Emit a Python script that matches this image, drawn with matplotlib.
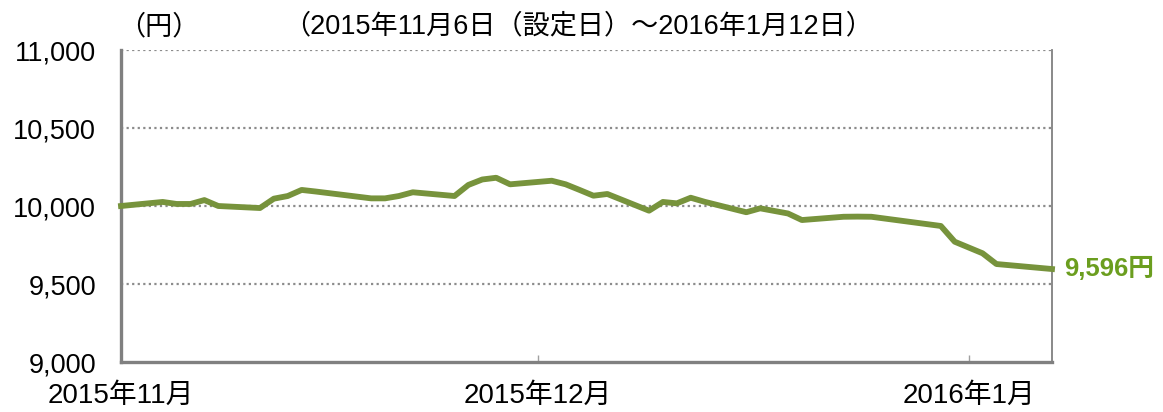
import datetime as dt
import matplotlib
matplotlib.use("Agg")
import matplotlib.pyplot as plt
from matplotlib.ticker import FuncFormatter

plt.rcParams['font.family'] = ['Liberation Sans', 'Noto Sans CJK JP', 'DejaVu Sans']

# trading days (Nov 6 2015 - Jan 12 2016) and NAV
dates = ["2015-11-06", "2015-11-09", "2015-11-10", "2015-11-11", "2015-11-12",
         "2015-11-13", "2015-11-16", "2015-11-17", "2015-11-18", "2015-11-19",
         "2015-11-20", "2015-11-24", "2015-11-25", "2015-11-26", "2015-11-27",
         "2015-11-30", "2015-12-01", "2015-12-02", "2015-12-03", "2015-12-04",
         "2015-12-07", "2015-12-08", "2015-12-09", "2015-12-10", "2015-12-11",
         "2015-12-14", "2015-12-15", "2015-12-16", "2015-12-17", "2015-12-18",
         "2015-12-21", "2015-12-22", "2015-12-24", "2015-12-25", "2015-12-28",
         "2015-12-29", "2015-12-30", "2016-01-04", "2016-01-05", "2016-01-06",
         "2016-01-07", "2016-01-08", "2016-01-12"]
nav = [10000, 10026, 10013, 10013, 10038,
       10000, 9987, 10047, 10064, 10103,
       10093, 10049, 10049, 10064, 10088,
       10064, 10135, 10170, 10181, 10139,
       10162, 10139, 10103, 10066, 10077,
       9970, 10026, 10017, 10053, 10027,
       9960, 9985, 9952, 9910, 9931,
       9932, 9931, 9872, 9771, 9734,
       9697, 9628, 9596]

tick_dates = ["2015-11-06", "2015-12-06", "2016-01-06"]
tick_labels = ["2015年11月", "2015年12月", "2016年1月"]
y_ticks = [9000, 9500, 10000, 10500, 11000]

x = [dt.datetime.strptime(d, "%Y-%m-%d") for d in dates]
xt = [dt.datetime.strptime(d, "%Y-%m-%d") for d in tick_dates]

fig = plt.figure(figsize=(11.63, 4.12), dpi=100)
ax = fig.add_axes([121/1163, 1-362/412, (1052-121)/1163, (362-50)/412])

ax.plot(x, nav, color='#77933C', lw=4.2, solid_joinstyle='round', zorder=3, clip_on=False)

ax.set_xlim(x[0], x[-1])
ax.set_ylim(9000, 11000)
ax.set_yticks(y_ticks)
ax.yaxis.set_major_formatter(FuncFormatter(lambda v, p: f"{int(v):,}"))
ax.set_xticks(xt)
ax.set_xticklabels(tick_labels)

for v in y_ticks[1:]:
    ax.axhline(v, color='#8c8c8c', lw=1.6, ls=(0, (1, 1.5)), zorder=1)

ax.tick_params(axis='y', length=0, pad=18, labelsize=19.5)
ax.tick_params(axis='x', direction='in', length=5, width=1, color='#a0a0a0',
               pad=15, labelsize=20)

for s in ['left', 'bottom']:
    ax.spines[s].set_color('#808080')
    ax.spines[s].set_linewidth(2.4)
ax.spines['right'].set_color('#808080')
ax.spines['right'].set_linewidth(1.3)
ax.spines['top'].set_visible(False)

ax.annotate("9,596円", xy=(x[-1], nav[-1]), xytext=(9, 0), textcoords='offset points',
            va='center', ha='left', fontsize=18.5, fontweight='bold', color='#6B9E1F')

fig.text(118/1163, 1-27/412, "（円）", fontsize=19.5, va='center', ha='left')
fig.text(283/1163, 1-26/412, "（2015年11月6日（設定日）～2016年1月12日）",
         fontsize=19.5, va='center', ha='left')

fig.savefig("out.png", dpi=100)
